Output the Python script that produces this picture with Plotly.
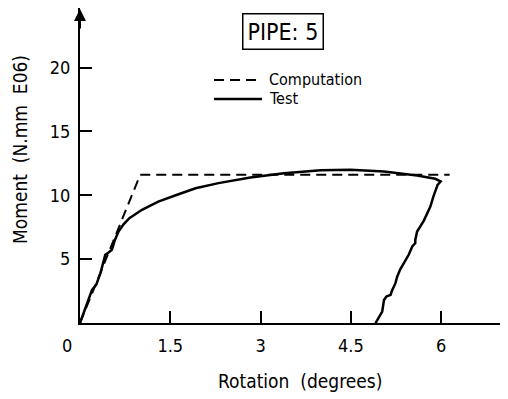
import plotly.graph_objects as go

# Data
comp_x = [0.0, 1.0, 6.14]
comp_y = [0.0, 11.6, 11.6]

test_x = [0.0, 0.05, 0.14, 0.2, 0.27, 0.34, 0.42, 0.47, 0.53, 0.58, 0.64, 0.72, 0.82, 1.03,
          1.3, 1.59, 1.92, 2.3, 2.83, 3.39, 3.66, 4.0, 4.49, 5.05, 5.6, 5.9, 5.99,
          5.94, 5.87, 5.82, 5.71, 5.6, 5.57, 5.57, 5.52, 5.46, 5.38, 5.32, 5.27, 5.24,
          5.18, 5.16, 5.09, 5.05, 5.02, 4.96, 4.91]
test_y = [0.0, 0.6, 1.82, 2.6, 3.0, 3.9, 5.34, 5.5, 5.73, 6.5, 7.16, 7.7, 8.2, 8.86,
          9.5, 10.0, 10.55, 10.95, 11.39, 11.73, 11.85, 11.95, 12.0, 11.86, 11.55, 11.29, 11.08,
          10.82, 9.9, 9.12, 8.0, 7.16, 6.5, 6.26, 5.99, 5.34, 4.69, 4.2, 3.64, 3.12,
          2.5, 2.2, 2.07, 1.8, 0.9, 0.38, 0.0]

x_ticks = [1.5, 3, 4.5, 6]
x_tick_text = ["1.5", "3", "4.5", "6"]
y_ticks = [5, 10, 15, 20]
y_tick_text = ["5", "10", "15", "20"]

FONT = "DejaVu Sans Condensed"

fig = go.Figure()
fig.add_trace(go.Scatter(x=comp_x, y=comp_y, mode="lines", name="Computation",
                         line=dict(color="black", width=2, dash="10px,6px"), showlegend=False))
fig.add_trace(go.Scatter(x=test_x, y=test_y, mode="lines", name="Test",
                         line=dict(color="black", width=2.5), showlegend=False))

fig.update_layout(
    width=500, height=391,
    margin=dict(l=72, r=3, t=0, b=76),
    paper_bgcolor="white", plot_bgcolor="white",
    font=dict(family=FONT, color="black", size=17),
    xaxis=dict(range=[0, 7.06], showline=True, linecolor="black", linewidth=2,
               showgrid=False, zeroline=False, ticks="inside", ticklen=12, tickwidth=1.5,
               tickcolor="black", tickvals=x_ticks, ticktext=x_tick_text,
               tickfont=dict(size=18, family=FONT), ticklabelstandoff=5),
    yaxis=dict(range=[0, 24.66], showline=True, linecolor="black", linewidth=2,
               showgrid=False, zeroline=False, ticks="inside", ticklen=12, tickwidth=1.5,
               tickcolor="black", tickvals=y_ticks, ticktext=y_tick_text,
               tickfont=dict(size=18, family=FONT), ticklabelstandoff=4),
    showlegend=False,
)

# axis arrow at top of y axis
fig.add_annotation(x=0, y=1.0, xref="x", yref="paper", ax=0, ay=22,
                   showarrow=True, arrowhead=2, arrowsize=1.2, arrowwidth=2, arrowcolor="black", text="")

# "0" label
fig.add_annotation(x=0, y=0, xref="x", yref="y", text="0", showarrow=False,
                   xshift=-13, yshift=-22, font=dict(size=18, family=FONT))

# Title box
fig.add_annotation(x=0.4788, y=0.9254, xref="paper", yref="paper", text="PIPE: 5",
                   xanchor="center", yanchor="middle",
                   showarrow=False, font=dict(size=23, family=FONT),
                   bordercolor="black", borderwidth=1.5, borderpad=4, bgcolor="white")

# Legend (drawn manually)
fig.add_shape(type="line", xref="paper", yref="paper", x0=0.3153, x1=0.4235, y0=0.7716, y1=0.7716,
              line=dict(color="black", width=2, dash="10px,6px"))
fig.add_shape(type="line", xref="paper", yref="paper", x0=0.3153, x1=0.4282, y0=0.7113, y1=0.7113,
              line=dict(color="black", width=2.5))
fig.add_annotation(x=0.44, y=0.7716, xref="paper", yref="paper", text="Computation",
                   showarrow=False, xanchor="left", yanchor="middle", font=dict(size=16, family=FONT))
fig.add_annotation(x=0.44, y=0.7113, xref="paper", yref="paper", text="Test",
                   showarrow=False, xanchor="left", yanchor="middle", font=dict(size=16, family=FONT))

# Axis titles
fig.add_annotation(x=-0.141, y=0.5495, xref="paper", yref="paper", text="Moment  (N.mm  E06)",
                   showarrow=False, textangle=-90, xanchor="center", yanchor="middle",
                   font=dict(size=19, family=FONT))
fig.add_annotation(x=0.5176, y=-0.1834, xref="paper", yref="paper", text="Rotation  (degrees)",
                   showarrow=False, xanchor="center", yanchor="middle",
                   font=dict(size=19, family=FONT))

fig.write_html("out.html")
